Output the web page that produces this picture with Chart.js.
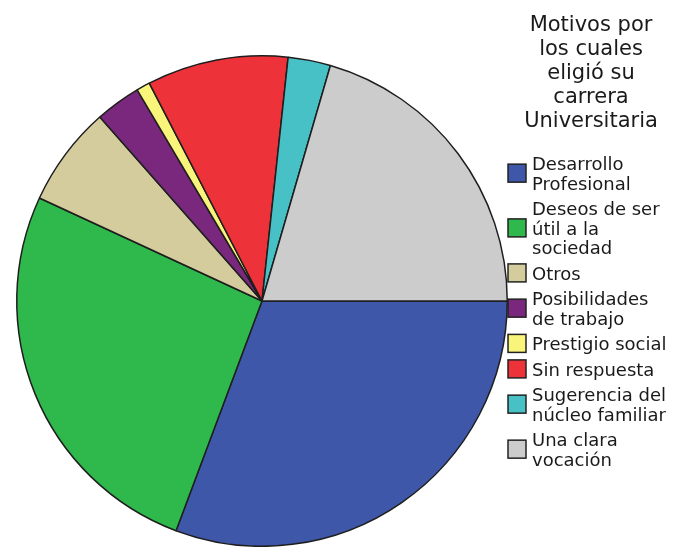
<!DOCTYPE html>
<html>
<head>
<meta charset="utf-8">
<script src="https://cdn.jsdelivr.net/npm/chart.js@4/dist/chart.umd.min.js"></script>
<style>
  html, body { margin: 0; padding: 0; background: #ffffff; }
  #wrap { width: 675px; height: 547px; position: relative; }
</style>
</head>
<body>
<div id="wrap"><canvas id="c" width="675" height="547"></canvas></div>
<script>
// ---- data ----
const categories = [
  ["Desarrollo", "Profesional"],
  ["Deseos de ser", "útil a la", "sociedad"],
  ["Otros"],
  ["Posibilidades", "de trabajo"],
  ["Prestigio social"],
  ["Sin respuesta"],
  ["Sugerencia del", "núcleo familiar"],
  ["Una clara", "vocación"]
];
const percentages = [30.7, 26.2, 6.6, 3.0, 0.9, 9.3, 2.8, 20.5];
const sliceColors = ["#3e57a9", "#2fb84b", "#d4cc9c", "#7a287e", "#f9f47a", "#ee3239", "#47c1c6", "#cccccc"];
const legendTitle = ["Motivos por", "los cuales", "eligió su", "carrera", "Universitaria"];

// ---- custom legend drawn on the chart canvas ----
const sideLegend = {
  id: 'sideLegend',
  afterDraw(chart) {
    const ctx = chart.ctx;
    ctx.save();
    ctx.fillStyle = '#1a1a1a';
    ctx.textBaseline = 'alphabetic';
    // title
    ctx.font = '21px "DejaVu Sans"';
    ctx.textAlign = 'center';
    legendTitle.forEach((t, i) => ctx.fillText(t, 591, 30.5 + i * 24));
    // items
    ctx.font = '18px "DejaVu Sans"';
    ctx.textAlign = 'left';
    const lineH = 19.5, gap = 6, capH = 13.2, box = 18;
    let y = 170;
    const labels = chart.data.labels;
    const colors = chart.data.datasets[0].backgroundColor;
    labels.forEach((lines, i) => {
      const first = y;
      lines.forEach((ln, j) => ctx.fillText(ln, 532, y + j * lineH));
      const last = y + (lines.length - 1) * lineH;
      const mid = ((first - capH) + last) / 2;
      ctx.fillStyle = colors[i];
      ctx.fillRect(508, mid - box / 2, box, box);
      ctx.lineWidth = 1.5;
      ctx.strokeStyle = '#222222';
      ctx.strokeRect(508, mid - box / 2, box, box);
      ctx.fillStyle = '#1a1a1a';
      y = last + lineH + gap;
    });
    ctx.restore();
  }
};

new Chart(document.getElementById('c'), {
  type: 'pie',
  data: {
    labels: categories,
    datasets: [{
      data: percentages,
      backgroundColor: sliceColors,
      borderColor: '#1e1e1e',
      borderWidth: 1.5
    }]
  },
  options: {
    responsive: false,
    animation: false,
    rotation: 90,
    layout: { padding: { left: 16, top: 55, right: 167, bottom: 0 } },
    plugins: {
      legend: { display: false },
      tooltip: { enabled: false },
      title: { display: false }
    }
  },
  plugins: [sideLegend]
});
</script>
</body>
</html>
